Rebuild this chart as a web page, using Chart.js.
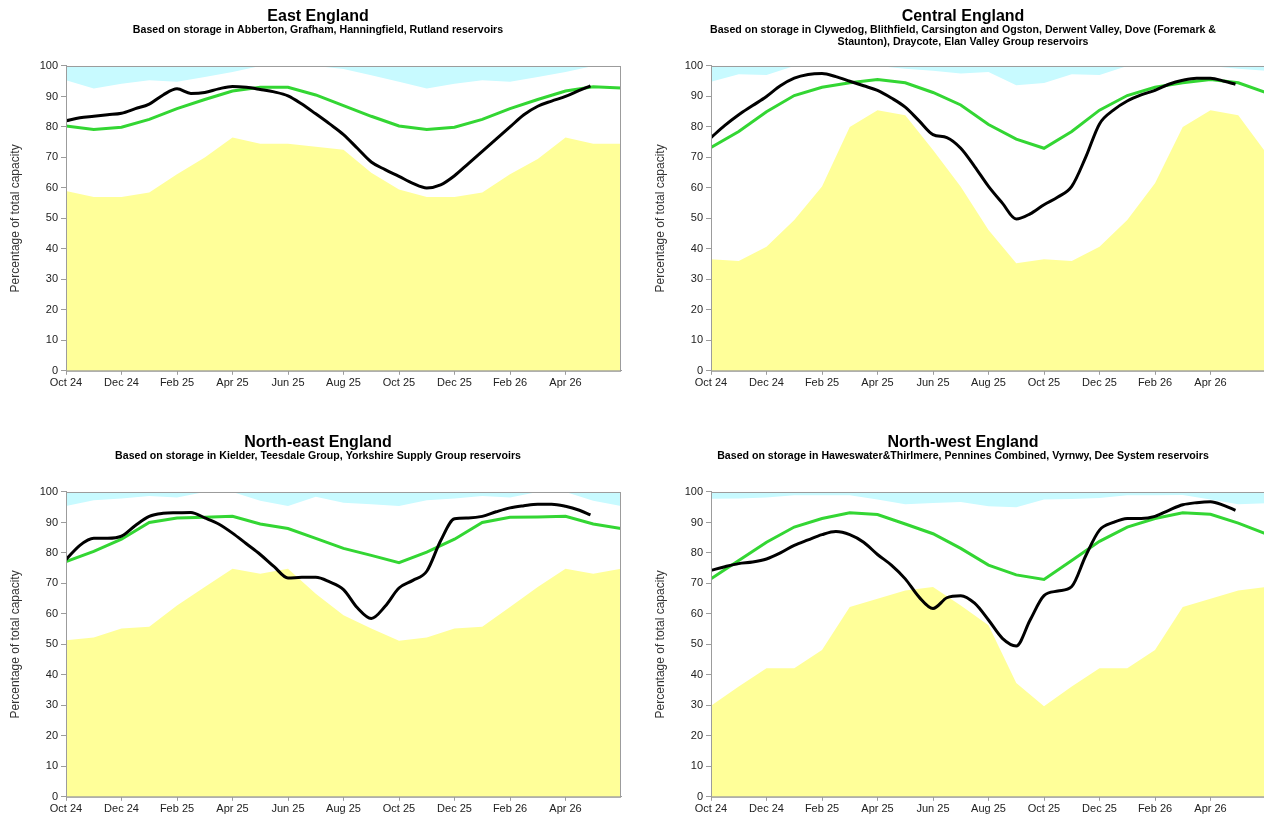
<!DOCTYPE html>
<html>
<head>
<meta charset="utf-8">
<title>Reservoir storage</title>
<script src="https://cdn.jsdelivr.net/npm/chart.js@4.4.1/dist/chart.umd.min.js"></script>
<style>
  html, body { margin: 0; padding: 0; background: #fff; overflow: hidden; width: 1264px; height: 818px; }
  .panel { position: absolute; }
</style>
</head>
<body>
<div class="panel" style="left:0;top:0"><canvas id="east" width="636" height="392"></canvas></div>
<div class="panel" style="left:645px;top:0"><canvas id="central" width="636" height="392"></canvas></div>
<div class="panel" style="left:0;top:426px"><canvas id="northEast" width="636" height="392"></canvas></div>
<div class="panel" style="left:645px;top:426px"><canvas id="northWest" width="636" height="392"></canvas></div>
<script>
// months counted from Oct 2024 (0) to Jun 2026 (20)
var bandMonths = [0, 1, 2, 3, 4, 5, 6, 7, 8, 9, 10, 11, 12, 13, 14, 15, 16, 17, 18, 19, 20];
var actualMonths = [0, 0.5, 1, 1.5, 2, 2.5, 3, 3.5, 4, 4.5, 5, 5.5, 6, 6.5, 7, 7.5, 8, 8.5, 9, 9.5,
    10, 10.5, 11, 11.5, 12, 12.5, 13, 13.5, 14, 14.5, 15, 15.5, 16, 16.5, 17, 17.5, 18, 18.5, 18.9];
var tickLabels = ["Oct 24", "Dec 24", "Feb 25", "Apr 25", "Jun 25", "Aug 25", "Oct 25", "Dec 25", "Feb 26", "Apr 26"];

// East England
var eastLower = [59, 57, 57, 58.5, 64.5, 70, 76.5, 74.5, 74.5, 73.5, 72.5, 65, 59.5, 57, 57, 58.5, 64.5, 69.5, 76.5, 74.5, 74.5];
var eastUpper = [95.3, 92.6, 94.2, 95.3, 94.8, 96.4, 98, 100, 100, 100, 99, 97, 94.8, 92.6, 94.2, 95.3, 94.8, 96.4, 98, 100, 100];
var eastAverage = [80.3, 79.2, 79.9, 82.5, 86, 89, 91.8, 93, 93, 90.5, 87, 83.5, 80.3, 79.2, 79.9, 82.5, 86, 89, 91.8, 93.2, 92.8];
var eastActual = [82, 83, 83.5, 84, 84.5, 86, 87.5, 90.5, 92.5, 91, 91.3, 92.5, 93.3, 93, 92.3, 91.5, 90.2, 87.5, 84.3, 81,
    77.5, 73, 68.5, 66, 63.8, 61.5, 60, 61, 64, 68, 72, 76, 80, 84, 86.8, 88.5, 90, 92, 93.5];

// Central England
var centralLower = [36.6, 36, 40.7, 49.5, 60.5, 80, 85.5, 83.8, 72.4, 60.4, 46.2, 35.3, 36.6, 36, 40.7, 49.5, 61.5, 80, 85.5, 83.8, 71.5];
var centralUpper = [94.8, 97.3, 97, 100, 100, 100, 100, 99.1, 98.4, 97.5, 98, 93.7, 94.4, 97.3, 97, 100, 100, 100, 100, 99.1, 98.4];
var centralAverage = [73.3, 78.5, 85, 90.3, 93, 94.5, 95.6, 94.5, 91.3, 87.2, 80.8, 76, 73, 78.5, 85.5, 90.3, 93, 94.5, 95.6, 94.5, 91.3];
var centralActual = [76.5, 80.5, 84, 87, 90, 93.5, 96, 97.2, 97.5, 96.5, 95, 93.5, 92, 89.5, 86.5, 82, 77.5, 76.5, 73, 67,
    60.5, 55, 49.8, 51.5, 54.5, 57, 60.5, 70, 81, 85.5, 88.5, 90.5, 92, 94, 95.3, 96, 96, 95, 94];

// North-east England
var northEastLower = [51.4, 52.3, 55.2, 55.8, 62.8, 68.8, 74.8, 73.2, 74.8, 66.6, 59.6, 55.2, 51.2, 52.3, 55.2, 55.8, 62.3, 68.8, 74.8, 73.2, 74.8];
var northEastUpper = [95.4, 97.3, 97.9, 98.7, 98.2, 100, 100, 97.1, 95.4, 98.4, 96.5, 96, 95.4, 97.3, 97.9, 98.7, 98.2, 100, 100, 97.1, 95.4];
var northEastAverage = [77.2, 80.5, 84.5, 90, 91.5, 91.7, 92, 89.5, 88, 84.8, 81.5, 79.2, 76.8, 80.3, 84.5, 90, 91.7, 91.8, 92, 89.5, 88];
var northEastActual = [77.8, 82.5, 84.8, 84.8, 85.5, 89, 92, 93, 93.2, 93.3, 91.5, 89.5, 86.5, 83, 79.5, 75.5, 71.8, 72, 72, 70.5,
    68, 62, 58.5, 62.5, 68.5, 71, 74, 84, 91.2, 91.5, 92, 93.5, 94.8, 95.5, 96, 96, 95.3, 94, 92.5];

// North-west England
var northWestLower = [29.9, 36.2, 42.2, 42.2, 48.2, 62.3, 65, 67.7, 68.8, 62.8, 56.3, 37.3, 29.7, 36.2, 42.2, 42.2, 48.2, 62.3, 65, 67.7, 68.8];
var northWestUpper = [97.8, 97.9, 98.2, 98.9, 98.9, 98.9, 97.5, 96, 96.4, 96.7, 95.3, 95, 97.5, 97.7, 98, 98.9, 98.9, 99, 97.5, 96, 96.3];
var northWestAverage = [71.5, 77.5, 83.5, 88.5, 91.3, 93.2, 92.6, 89.5, 86.3, 81.5, 76, 72.8, 71.3, 77.5, 83.8, 88.5, 91.3, 93.2, 92.7, 89.8, 86.3];
var northWestActual = [74.3, 75.5, 76.5, 77, 78, 80, 82.5, 84.3, 86, 87, 86, 83.5, 79.5, 76, 71.5, 65.5, 61.8, 65.3, 66, 63.5,
    58, 52, 49.5, 58, 66, 67.5, 69, 79, 87.5, 90, 91.3, 91.3, 92, 94, 95.8, 96.5, 96.8, 95.5, 94];

var fontFamily = "'Liberation Sans', Arial, sans-serif";

function pairUp(xs, ys) {
    return ys.map(function (y, i) { return { x: xs[i], y: y }; });
}

// gray frame round the plot area
var plotFrame = {
    id: "plotFrame",
    afterDatasetsDraw: function (chart) {
        var a = chart.chartArea, ctx = chart.ctx;
        ctx.save();
        ctx.strokeStyle = "#9c9c9c";
        ctx.lineWidth = 1;
        ctx.strokeRect(a.left + 0.5, a.top + 0.5, a.right - a.left - 1, a.bottom - a.top);
        ctx.restore();
    }
};

function makeChart(id, title, subtitle, lower, upper, average, actual) {
    var lines = typeof subtitle === "string" ? 1 : subtitle.length;
    return new Chart(document.getElementById(id), {
        type: "line",
        plugins: [plotFrame],
        data: {
            datasets: [
                {
                    label: "Actual",
                    data: pairUp(actualMonths, actual),
                    borderColor: "#000000",
                    borderWidth: 3,
                    pointRadius: 0,
                    cubicInterpolationMode: "monotone",
                    fill: false,
                    order: 0
                },
                {
                    label: "Long term average",
                    data: pairUp(bandMonths, average),
                    borderColor: "#33d633",
                    borderWidth: 3,
                    pointRadius: 0,
                    tension: 0,
                    fill: false,
                    order: 1
                },
                {
                    label: "Minimum",
                    data: pairUp(bandMonths, lower),
                    borderWidth: 0,
                    borderColor: "rgba(0,0,0,0)",
                    backgroundColor: "#ffff99",
                    pointRadius: 0,
                    tension: 0,
                    fill: "origin",
                    order: 3
                },
                {
                    label: "Maximum",
                    data: pairUp(bandMonths, upper),
                    borderWidth: 0,
                    borderColor: "rgba(0,0,0,0)",
                    backgroundColor: "#c8faff",
                    pointRadius: 0,
                    tension: 0,
                    fill: "end",
                    order: 2
                }
            ]
        },
        options: {
            responsive: false,
            animation: false,
            layout: { padding: { left: 15, right: 15, top: 0, bottom: 0 } },
            plugins: {
                legend: { display: false },
                tooltip: { enabled: false },
                title: {
                    display: true,
                    text: title,
                    color: "#000",
                    font: { family: fontFamily, size: 16, weight: "bold", lineHeight: 1.2 },
                    padding: { top: 7, bottom: -2 }
                },
                subtitle: {
                    display: true,
                    text: subtitle,
                    color: "#000",
                    font: { family: fontFamily, size: 10.6, weight: "bold", lineHeight: 1.15 },
                    padding: { top: 0, bottom: 66 - 24.2 - 12.2 * lines }
                }
            },
            scales: {
                x: {
                    type: "linear",
                    min: 0,
                    max: 20,
                    afterBuildTicks: function (scale) {
                        scale.ticks = scale.ticks.filter(function (t) { return t.value < 19; });
                    },
                    ticks: {
                        stepSize: 2,
                        autoSkip: false,
                        maxRotation: 0,
                        padding: 2,
                        color: "#222",
                        font: { family: fontFamily, size: 11 },
                        callback: function (value) { return tickLabels[value / 2]; }
                    },
                    grid: { drawOnChartArea: false, drawTicks: true, tickLength: 4, color: "#9c9c9c" },
                    border: { display: true, color: "#9c9c9c" }
                },
                y: {
                    min: 0,
                    max: 100,
                    afterFit: function (scale) { scale.width = 51; },
                    ticks: {
                        stepSize: 10,
                        padding: 3,
                        color: "#222",
                        font: { family: fontFamily, size: 11 }
                    },
                    grid: { drawOnChartArea: false, drawTicks: true, tickLength: 5, color: "#9c9c9c" },
                    border: { display: true, color: "#9c9c9c" },
                    title: {
                        display: true,
                        text: "Percentage of total capacity",
                        color: "#333",
                        font: { family: fontFamily, size: 12 },
                        padding: { top: -7, bottom: 4 }
                    }
                }
            }
        }
    });
}

makeChart("east", "East England",
    "Based on storage in Abberton, Grafham, Hanningfield, Rutland reservoirs",
    eastLower, eastUpper, eastAverage, eastActual);
makeChart("central", "Central England",
    ["Based on storage in Clywedog, Blithfield, Carsington and Ogston, Derwent Valley, Dove (Foremark &",
     "Staunton), Draycote, Elan Valley Group reservoirs"],
    centralLower, centralUpper, centralAverage, centralActual);
makeChart("northEast", "North-east England",
    "Based on storage in Kielder, Teesdale Group, Yorkshire Supply Group reservoirs",
    northEastLower, northEastUpper, northEastAverage, northEastActual);
makeChart("northWest", "North-west England",
    "Based on storage in Haweswater&Thirlmere, Pennines Combined, Vyrnwy, Dee System reservoirs",
    northWestLower, northWestUpper, northWestAverage, northWestActual);
</script>
</body>
</html>
